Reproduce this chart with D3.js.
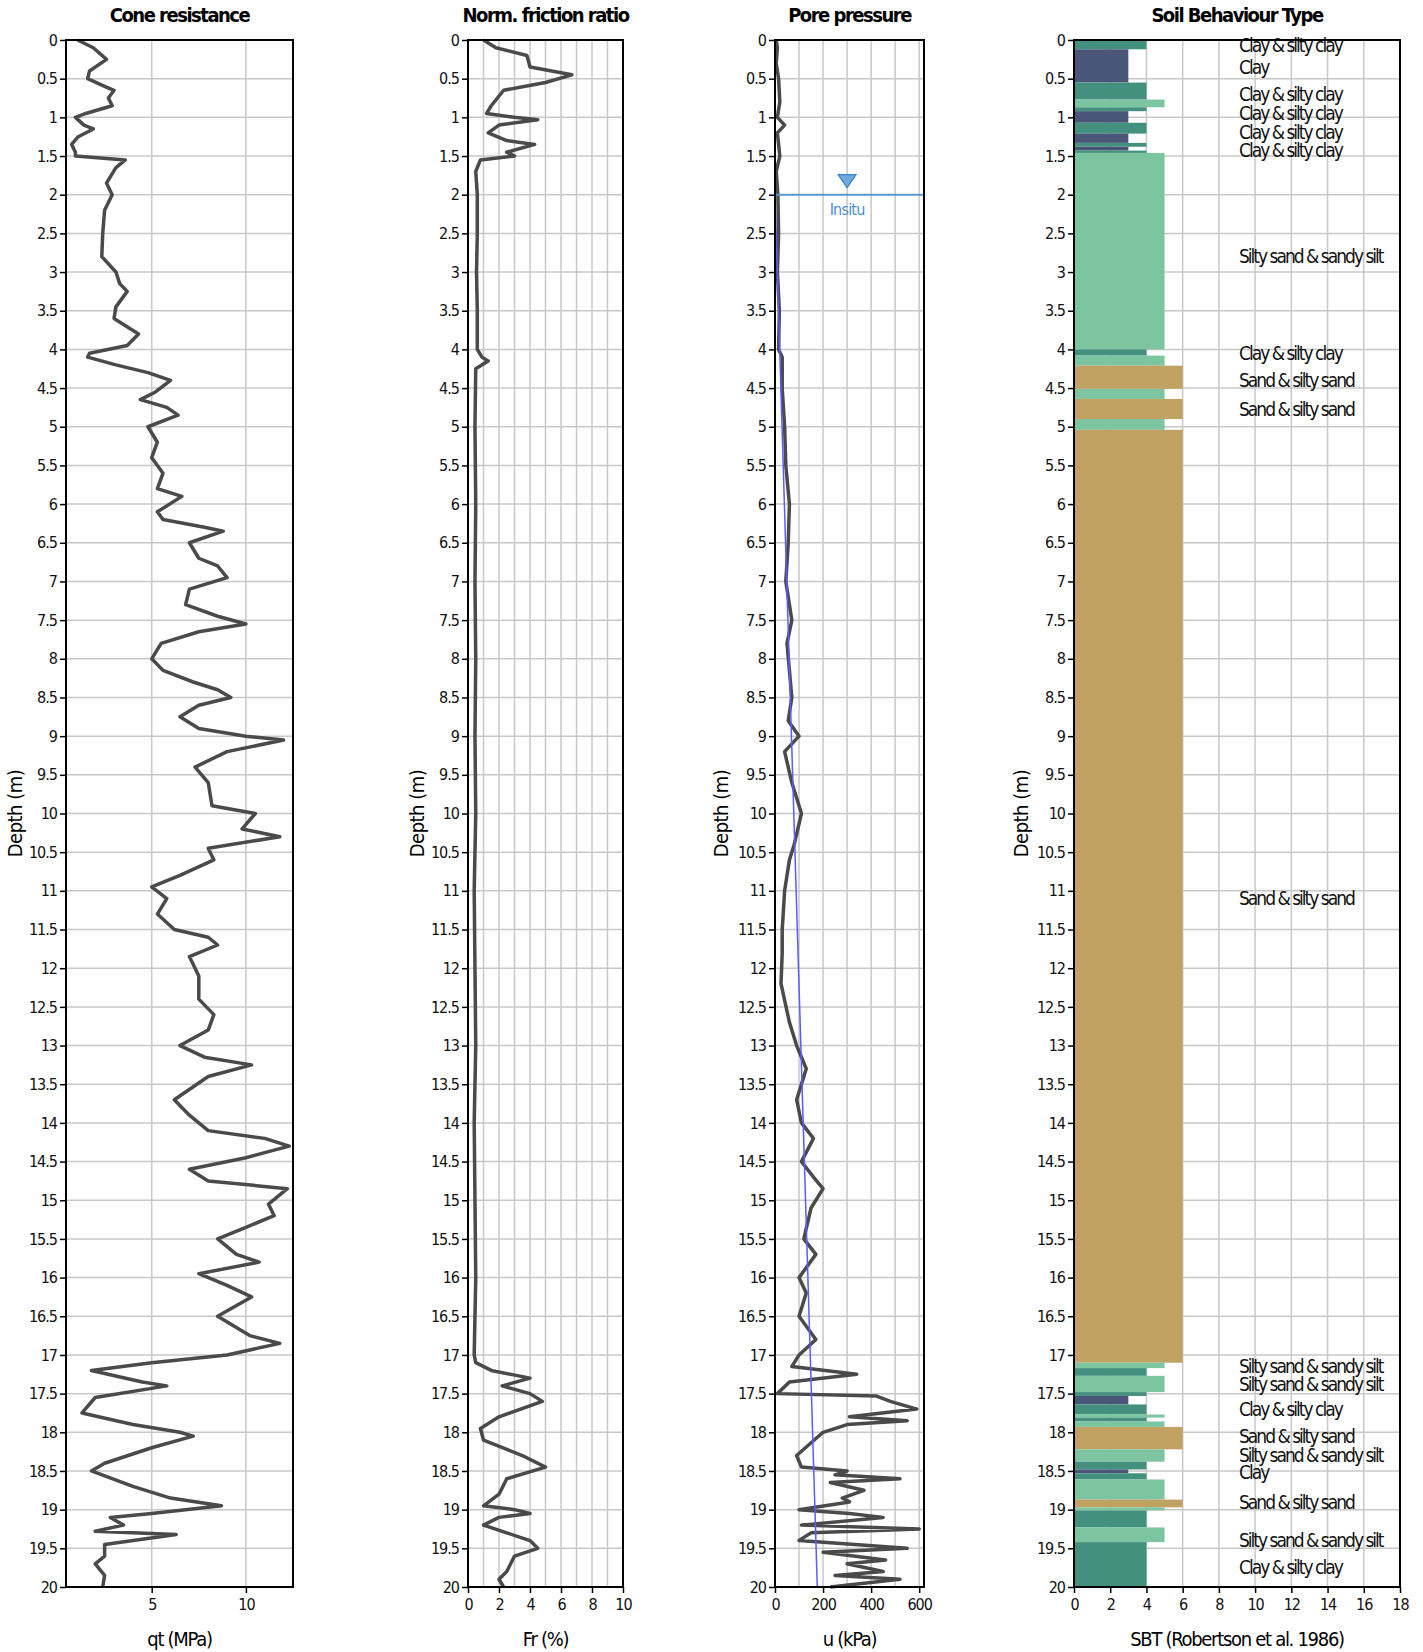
<!DOCTYPE html>
<html><head><meta charset="utf-8">
<script src="https://cdn.jsdelivr.net/npm/d3@7"></script>
<style>
body{margin:0;background:#fff;}
text{font-family:"Liberation Sans Narrow","DejaVu Sans Condensed","Liberation Sans",sans-serif;}
</style></head><body>
<div id="chart"></div>
<script>
// depth (m), value
const qtData = [[0,1.07],[0.1,1.9],[0.25,2.6],[0.4,1.7],[0.5,1.6],[0.6,2.5],[0.65,3.0],[0.75,2.7],[0.85,2.9],[0.95,1.5],[1.0,0.95],[1.1,1.4],[1.15,1.9],[1.25,1.1],[1.35,0.75],[1.45,0.95],[1.5,0.95],[1.55,3.6],[1.65,3.1],[1.85,2.6],[2.0,2.9],[2.2,2.5],[2.5,2.4],[2.8,2.35],[3.0,3.1],[3.15,3.3],[3.25,3.7],[3.45,3.1],[3.6,3.0],[3.8,4.3],[3.95,3.7],[4.05,1.7],[4.1,1.6],[4.2,3.1],[4.3,4.8],[4.4,6.0],[4.55,5.2],[4.65,4.4],[4.75,5.8],[4.85,6.4],[5.0,4.8],[5.2,5.3],[5.4,5.0],[5.6,5.6],[5.8,5.3],[5.9,6.6],[6.1,5.3],[6.2,5.6],[6.3,7.8],[6.35,8.8],[6.5,7.0],[6.7,7.5],[6.8,8.5],[6.95,9.0],[7.1,7.0],[7.3,6.8],[7.45,8.5],[7.55,10.0],[7.65,7.5],[7.8,5.5],[8.0,5.0],[8.15,5.6],[8.3,7.2],[8.4,8.5],[8.5,9.2],[8.6,7.5],[8.75,6.5],[8.9,7.5],[9.0,10.0],[9.05,12.0],[9.2,9.0],[9.4,7.3],[9.6,8.0],[9.9,8.2],[10.0,10.5],[10.2,9.8],[10.3,11.8],[10.45,8.0],[10.6,8.3],[10.8,6.5],[10.95,5.0],[11.1,5.8],[11.3,5.3],[11.5,6.2],[11.6,8.0],[11.7,8.5],[11.85,7.0],[12.1,7.5],[12.4,7.5],[12.6,8.3],[12.8,8.0],[13.0,6.5],[13.15,7.8],[13.25,10.3],[13.4,8.0],[13.7,6.2],[13.9,7.0],[14.1,8.0],[14.2,11.0],[14.3,12.3],[14.45,10.0],[14.6,7.0],[14.75,8.0],[14.85,12.2],[15.05,11.2],[15.2,11.5],[15.35,10.0],[15.5,8.5],[15.7,9.5],[15.8,10.7],[15.95,7.5],[16.1,9.0],[16.25,10.3],[16.5,8.5],[16.75,10.2],[16.85,11.8],[17.0,9.0],[17.1,5.0],[17.2,1.8],[17.35,4.5],[17.4,5.8],[17.55,2.0],[17.75,1.3],[17.9,4.0],[18.0,6.5],[18.05,7.2],[18.2,5.0],[18.4,2.5],[18.5,1.8],[18.7,4.0],[18.85,6.0],[18.95,8.7],[19.05,5.0],[19.1,2.8],[19.2,3.5],[19.28,2.0],[19.32,6.3],[19.45,2.5],[19.6,2.5],[19.7,2.0],[19.85,2.5],[20.0,2.4]];
const frData = [[0,1.0],[0.1,1.8],[0.2,3.8],[0.35,4.0],[0.45,6.7],[0.55,5.0],[0.65,2.3],[0.85,1.5],[0.95,1.2],[1.0,3.0],[1.03,4.5],[1.1,2.0],[1.2,1.3],[1.3,2.5],[1.35,4.3],[1.45,2.5],[1.5,3.0],[1.55,0.8],[1.7,0.5],[2.0,0.6],[2.5,0.6],[3.0,0.55],[3.5,0.6],[4.0,0.6],[4.1,0.9],[4.15,1.3],[4.25,0.5],[5,0.45],[6,0.5],[7,0.45],[8,0.5],[9,0.45],[10,0.5],[11,0.4],[12,0.45],[13,0.5],[14,0.4],[15,0.45],[16,0.5],[17.0,0.4],[17.1,0.5],[17.2,1.5],[17.3,4.0],[17.4,2.2],[17.5,4.0],[17.6,4.8],[17.8,2.0],[17.95,0.8],[18.1,1.0],[18.3,3.5],[18.45,5.0],[18.6,2.5],[18.8,2.0],[18.95,1.0],[19.0,3.0],[19.05,4.0],[19.1,2.0],[19.2,1.0],[19.3,2.5],[19.4,4.0],[19.5,4.5],[19.6,3.0],[19.8,2.5],[19.9,2.0],[20.0,2.3]];
const uData = [[0,5],[0.1,10],[0.3,5],[0.5,15],[0.8,20],[1.0,10],[1.1,40],[1.2,10],[1.5,20],[1.7,5],[2.0,12],[2.5,15],[3.0,10],[3.5,18],[4.0,15],[4.1,30],[4.5,30],[5.0,40],[5.5,45],[6.0,60],[6.5,55],[7.0,45],[7.5,70],[7.8,50],[8.5,70],[8.8,55],[9.0,100],[9.2,40],[9.6,70],[10.0,110],[10.4,80],[10.6,60],[11.0,40],[11.5,30],[11.8,30],[12.2,25],[12.7,60],[13.0,90],[13.3,130],[13.7,90],[14.0,110],[14.2,160],[14.5,110],[14.7,160],[14.85,200],[15.1,150],[15.5,120],[15.7,170],[16.0,100],[16.2,130],[16.5,100],[16.8,170],[17.0,100],[17.15,70],[17.25,340],[17.35,60],[17.5,10],[17.53,420],[17.6,480],[17.7,590],[17.8,310],[17.85,550],[17.9,300],[18.0,200],[18.3,90],[18.45,110],[18.5,300],[18.55,250],[18.6,520],[18.65,230],[18.75,370],[18.85,280],[18.9,310],[19.0,100],[19.05,310],[19.1,450],[19.2,110],[19.25,600],[19.3,150],[19.4,100],[19.5,550],[19.55,200],[19.65,460],[19.7,300],[19.8,450],[19.85,250],[19.9,520],[20.0,230]];
const hydroLine = [[2,0],[20,176]];
const waterDepth = 2;
// from, to, SBT
const sbtLayers = [[0,0.12,4],[0.12,0.55,3],[0.55,0.77,4],[0.77,0.87,5],[0.87,0.92,4],[0.92,1.07,3],[1.07,1.21,4],[1.21,1.33,3],[1.33,1.38,4],[1.38,1.43,3],[1.43,1.46,4],[1.46,4.0,5],[4.0,4.08,4],[4.08,4.21,5],[4.21,4.51,6],[4.51,4.64,5],[4.64,4.9,6],[4.9,5.04,5],[5.04,17.1,6],[17.1,17.17,5],[17.17,17.27,4],[17.27,17.48,5],[17.48,17.53,4],[17.53,17.64,3],[17.64,17.77,4],[17.77,17.81,5],[17.81,17.86,4],[17.86,17.93,5],[17.93,18.22,6],[18.22,18.38,5],[18.38,18.48,4],[18.48,18.53,3],[18.53,18.61,4],[18.61,18.87,5],[18.87,18.97,6],[18.97,19.01,5],[19.01,19.23,4],[19.23,19.42,5],[19.42,20,4]];
const sbtNames = {3:"Clay",4:"Clay & silty clay",5:"Silty sand & sandy silt",6:"Sand & silty sand"};
const sbtColors = {3:"#4a5678",4:"#44907f",5:"#7cc5a0",6:"#c1a263"};
const sbtLabels = [[0.07,4],[0.35,3],[0.7,4],[0.95,4],[1.2,4],[1.43,4],[2.8,5],[4.05,4],[4.4,6],[4.77,6],[11.1,6],[17.15,5],[17.38,5],[17.7,4],[18.05,6],[18.3,5],[18.52,3],[18.9,6],[19.4,5],[19.75,4]];
const depthTicks = d3.range(0, 20.01, 0.5);

const W = 1423, H = 1652, yTop = 40, yBot = 1587;
const svg = d3.select("#chart").append("svg").attr("width", W).attr("height", H);
const y = d3.scaleLinear().domain([0, 20]).range([yTop, yBot]);

function panel(o) {
  const x = d3.scaleLinear().domain(o.domain).range([o.x0, o.x1]);
  const g = svg.append("g");
  g.selectAll(".hg").data(depthTicks).join("line")
    .attr("x1", o.x0).attr("x2", o.x1).attr("y1", d => y(d)).attr("y2", d => y(d))
    .attr("stroke", "#c8c8c8").attr("stroke-width", 1.5);
  g.selectAll(".vg").data(o.grid).join("line")
    .attr("x1", d => x(d)).attr("x2", d => x(d)).attr("y1", yTop).attr("y2", yBot)
    .attr("stroke", "#c8c8c8").attr("stroke-width", 1.5);
  o.draw && o.draw(g, x);
  g.append("rect").attr("x", o.x0).attr("y", yTop).attr("width", o.x1 - o.x0).attr("height", yBot - yTop)
    .attr("fill", "none").attr("stroke", "#000").attr("stroke-width", 2);
  const ya = g.append("g").attr("transform", `translate(${o.x0},0)`)
    .call(d3.axisLeft(y).tickValues(depthTicks).tickSize(6).tickFormat(d3.format("~g")));
  const xa = g.append("g").attr("transform", `translate(0,${yBot})`)
    .call(d3.axisBottom(x).tickValues(o.ticks).tickSize(6).tickFormat(d3.format("~g")));
  [ya, xa].forEach(a => {
    a.select(".domain").remove();
    a.selectAll("text").attr("font-size", 16).attr("fill", "#111").attr("letter-spacing", "-1");
    a.selectAll("line").attr("stroke", "#000").attr("stroke-width", 1.5);
  });
  xa.selectAll("text").attr("dy", "0.9em");
  svg.append("text").attr("x", (o.x0 + o.x1) / 2).attr("y", 22).attr("text-anchor", "middle")
    .attr("font-size", 20).attr("font-weight", "bold").attr("letter-spacing", "-1.5").text(o.title);
  svg.append("text").attr("x", (o.x0 + o.x1) / 2).attr("y", 1646).attr("text-anchor", "middle")
    .attr("font-size", 20).attr("letter-spacing", "-1.3").text(o.xlabel);
  svg.append("text").attr("transform", `translate(${o.ylx},${(yTop + yBot) / 2}) rotate(-90)`)
    .attr("text-anchor", "middle").attr("font-size", 20).attr("letter-spacing", "-0.5").text("Depth (m)");
}

function curve(data, x) {
  return d3.line().x(d => x(d[1])).y(d => y(d[0]))(data);
}

panel({x0: 66, x1: 293, domain: [0.45, 12.5], ticks: [5, 10], grid: [5, 10],
  title: "Cone resistance", xlabel: "qt (MPa)", ylx: 22,
  draw: (g, x) => g.append("path").attr("d", curve(qtData, x)).attr("fill", "none")
    .attr("stroke", "#4a4a4a").attr("stroke-width", 3.5).attr("stroke-linejoin", "round")});

panel({x0: 468, x1: 623, domain: [0, 10], ticks: d3.range(0, 11, 2), grid: d3.range(1, 10, 1),
  title: "Norm. friction ratio", xlabel: "Fr (%)", ylx: 424,
  draw: (g, x) => g.append("path").attr("d", curve(frData, x)).attr("fill", "none")
    .attr("stroke", "#4a4a4a").attr("stroke-width", 3.5).attr("stroke-linejoin", "round")});

panel({x0: 775, x1: 924, domain: [0, 620], ticks: [0, 200, 400, 600], grid: d3.range(100, 601, 100),
  title: "Pore pressure", xlabel: "u (kPa)", ylx: 728,
  draw: (g, x) => {
    g.append("path").attr("d", curve(uData, x)).attr("fill", "none")
      .attr("stroke", "#4a4a4a").attr("stroke-width", 3.5).attr("stroke-linejoin", "round");
    g.append("path").attr("d", curve(hydroLine, x)).attr("stroke", "#5b5bff").attr("stroke-width", 1.5);
    g.append("line").attr("x1", x(0)).attr("x2", x(620)).attr("y1", y(waterDepth)).attr("y2", y(waterDepth))
      .attr("stroke", "#5b9bd5").attr("stroke-width", 2);
    const tx = x(300), ty = y(waterDepth) - 14;
    g.append("path").attr("d", `M${tx - 9},${ty - 6}L${tx + 9},${ty - 6}L${tx},${ty + 7}Z`)
      .attr("fill", "#6fa8dc").attr("stroke", "#3d85c6").attr("stroke-width", 1.2);
    g.append("text").attr("x", tx).attr("y", y(waterDepth) + 20).attr("text-anchor", "middle")
      .attr("font-size", 16).attr("letter-spacing", "-0.8").attr("fill", "#4a8fd4").text("Insitu");
  }});

panel({x0: 1074, x1: 1400, domain: [0, 18], ticks: d3.range(0, 19, 2), grid: d3.range(2, 18, 2),
  title: "Soil Behaviour Type", xlabel: "SBT (Robertson et al. 1986)", ylx: 1028,
  draw: (g, x) => {
    g.selectAll(".sbt").data(sbtLayers).join("rect")
      .attr("x", x(0) + 1).attr("y", d => y(d[0])).attr("width", d => x(d[2]) - x(0) - 1)
      .attr("height", d => y(d[1]) - y(d[0])).attr("fill", d => sbtColors[d[2]]);
    g.selectAll(".lbl").data(sbtLabels).join("text")
      .attr("x", 1239).attr("y", d => y(d[0])).attr("dy", "0.35em")
      .attr("font-size", 19).attr("letter-spacing", "-2").attr("fill", "#111")
      .text(d => sbtNames[d[1]]);
  }});
</script>
</body></html>
